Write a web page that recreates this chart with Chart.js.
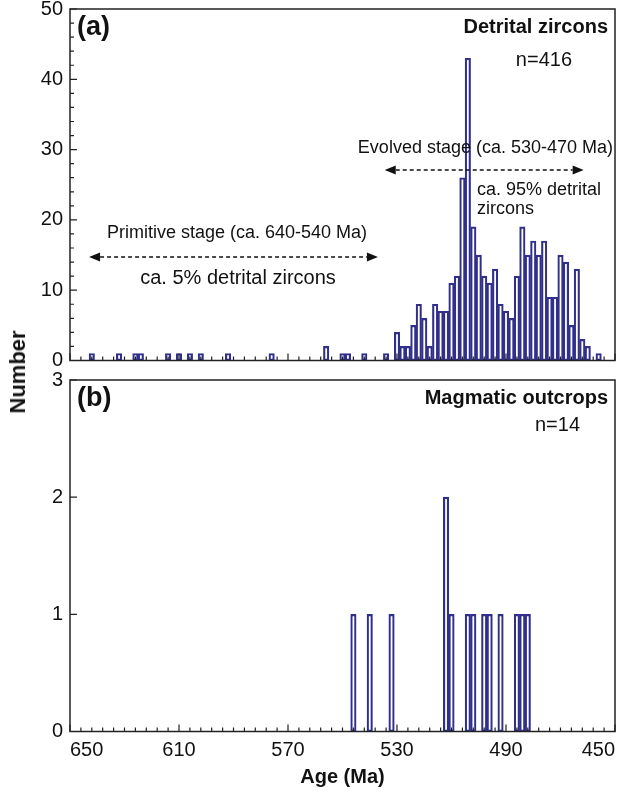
<!DOCTYPE html>
<html>
<head>
<meta charset="utf-8">
<script src="https://cdn.jsdelivr.net/npm/chart.js@4.4.1/dist/chart.umd.min.js"></script>
<style>
  html, body { margin: 0; padding: 0; background: #fff; }
  #wrap { position: relative; width: 619px; height: 793px; font-family: "Liberation Sans", Arial, sans-serif; }
  #chartA { position: absolute; left: 0; top: 0; }
  #chartB { position: absolute; left: 0; top: 372px; }
  #ylab {
    position: absolute; left: 18px; top: 372px;
    transform: translate(-50%, -50%) rotate(-90deg);
    font-weight: bold; font-size: 22px; color: #111; white-space: nowrap;
  }
</style>
</head>
<body>
<div id="wrap">
  <canvas id="chartA" width="619" height="372"></canvas>
  <canvas id="chartB" width="619" height="421"></canvas>
  <div id="ylab">Number</div>
</div>
<script>
// ── data (2 Ma bins, value = bin centre age) ─────────────────────────────────
const detritalAges = [
  642, 632, 626, 624, 614, 610, 606, 602, 592, 576, 556, 550, 548, 542, 534,
  530, 528, 526, 524, 522, 520, 518, 516, 514, 512, 510, 508, 506, 504, 502,
  500, 498, 496, 494, 492, 490, 488, 486, 484, 482, 480, 478, 476, 474, 472,
  470, 468, 466, 464, 462, 460, 456
];
const detritalCounts = [
  1, 1, 1, 1, 1, 1, 1, 1, 1, 1, 2, 1, 1, 1, 1,
  4, 2, 2, 5, 8, 6, 2, 8, 7, 7, 11, 12, 26, 43, 19,
  15, 12, 11, 13, 8, 7, 6, 12, 19, 15, 17, 15, 17, 9, 9,
  15, 14, 5, 13, 3, 2, 1
];
const magmaticAges   = [546, 540, 532, 512, 510, 504, 502, 498, 496, 492, 486, 484, 482];
const magmaticCounts = [1, 1, 1, 2, 1, 1, 1, 1, 1, 1, 1, 1, 1];

const ageMin = 450, ageMax = 650;
const ageLabelStep = 40, ageTickStep = 4;

const FONT = '"Liberation Sans", Arial, sans-serif';
const BAR = '#30308c';
const INK = '#111';

Chart.defaults.font.family = FONT;
Chart.defaults.color = INK;

// frame box + inward tick marks (+ age labels, end ones pulled inside the box)
const framePlugin = {
  id: 'frame',
  afterDatasetsDraw(chart, args, opts) {
    const { ctx, chartArea: a, scales: { x, y } } = chart;
    ctx.save();
    ctx.strokeStyle = '#222';
    ctx.lineWidth = 1.5;
    ctx.strokeRect(a.left, a.top, a.right - a.left, a.bottom - a.top);
    ctx.lineWidth = 1.2;
    ctx.beginPath();
    for (let v = ageMin; v <= ageMax; v += ageTickStep) {
      const px = x.getPixelForValue(v);
      const len = (ageMax - v) % ageLabelStep === 0 ? 7 : 4;
      ctx.moveTo(px, a.bottom);
      ctx.lineTo(px, a.bottom - len);
    }
    for (let v = 0; v <= y.max; v += opts.yMinor) {
      const py = y.getPixelForValue(v);
      const len = v % opts.yMajor === 0 ? 7 : 4;
      ctx.moveTo(a.left, py);
      ctx.lineTo(a.left + len, py);
    }
    ctx.stroke();

    if (opts.ageLabels) {
      ctx.font = '20px ' + FONT;
      ctx.fillStyle = INK;
      ctx.textBaseline = 'top';
      x.ticks.forEach(t => {
        ctx.textAlign = t.value === ageMax ? 'left' : t.value === ageMin ? 'right' : 'center';
        ctx.fillText(String(t.value), x.getPixelForValue(t.value), a.bottom + 9);
      });
    }
    ctx.restore();
  }
};

function dashedArrow(ctx, x1, x2, y) {
  const head = 11, half = 4.5;
  ctx.save();
  ctx.strokeStyle = '#111';
  ctx.fillStyle = '#111';
  ctx.lineWidth = 1.6;
  ctx.setLineDash([4, 3]);
  ctx.beginPath();
  ctx.moveTo(x1 + head, y);
  ctx.lineTo(x2 - head, y);
  ctx.stroke();
  ctx.setLineDash([]);
  ctx.beginPath();
  ctx.moveTo(x1, y); ctx.lineTo(x1 + head, y - half); ctx.lineTo(x1 + head, y + half); ctx.closePath();
  ctx.moveTo(x2, y); ctx.lineTo(x2 - head, y - half); ctx.lineTo(x2 - head, y + half); ctx.closePath();
  ctx.fill();
  ctx.restore();
}

function put(ctx, text, x, y, font, align) {
  ctx.font = font;
  ctx.textAlign = align || 'left';
  ctx.textBaseline = 'middle';
  ctx.fillText(text, x, y);
}

const notesA = {
  id: 'notesA',
  afterDraw(chart) {
    const { ctx, scales: { x } } = chart;
    ctx.save();
    ctx.fillStyle = INK;
    put(ctx, '(a)', 77, 28, 'bold 27px ' + FONT);
    put(ctx, 'Detrital zircons', 608, 27, 'bold 20px ' + FONT, 'right');
    put(ctx, 'n=416', 572, 60, '20px ' + FONT, 'right');
    put(ctx, 'Evolved stage (ca. 530-470 Ma)', 613, 148, '18px ' + FONT, 'right');
    put(ctx, 'ca. 95% detrital', 477, 190, '18px ' + FONT);
    put(ctx, 'zircons', 477, 209, '18px ' + FONT);
    put(ctx, 'Primitive stage (ca. 640-540 Ma)', 107, 233, '18px ' + FONT);
    put(ctx, 'ca. 5% detrital zircons', 238, 278, '20px ' + FONT, 'center');
    dashedArrow(ctx, x.getPixelForValue(534.5), x.getPixelForValue(461.5), 170);
    dashedArrow(ctx, x.getPixelForValue(643), x.getPixelForValue(537), 257);
    ctx.restore();
  }
};

const notesB = {
  id: 'notesB',
  afterDraw(chart) {
    const { ctx } = chart;
    ctx.save();
    ctx.fillStyle = INK;
    put(ctx, '(b)', 77, 27, 'bold 27px ' + FONT);
    put(ctx, 'Magmatic outcrops', 608, 26, 'bold 20px ' + FONT, 'right');
    put(ctx, 'n=14', 580, 53, '20px ' + FONT, 'right');
    ctx.restore();
  }
};

function noPad(scale) {
  scale.paddingTop = 0; scale.paddingBottom = 0;
  scale.paddingLeft = 0; scale.paddingRight = 0;
}

function histogram(canvas, ages, counts, opts) {
  return new Chart(canvas, {
    type: 'bar',
    data: {
      datasets: [{
        data: ages.map((a, i) => ({ x: a, y: counts[i] })),
        backgroundColor: 'rgba(255,255,255,0)',
        borderColor: BAR,
        borderWidth: 1.5,
        borderSkipped: false,
        categoryPercentage: 1,
        barPercentage: 1
      }]
    },
    plugins: [framePlugin, opts.notes],
    options: {
      responsive: false,
      devicePixelRatio: 1,
      animation: false,
      layout: { padding: { top: opts.top, right: 4, left: 0, bottom: 0 } },
      plugins: {
        legend: { display: false },
        tooltip: { enabled: false },
        frame: { yMinor: opts.yMinor, yMajor: opts.yMajor, ageLabels: opts.xLabels }
      },
      scales: {
        x: {
          type: 'linear',
          reverse: true,
          offset: false,
          min: ageMin,
          max: ageMax,
          grid: { display: false, drawTicks: false },
          border: { display: false },
          ticks: { display: false, stepSize: ageLabelStep },
          title: {
            display: opts.xLabels,
            text: 'Age (Ma)',
            font: { size: 20, weight: 'bold' },
            color: INK,
            padding: { top: 0, bottom: 4 }
          },
          afterFit(scale) { scale.height = opts.xHeight; noPad(scale); }
        },
        y: {
          min: 0,
          max: opts.yMax,
          grid: { display: false, drawTicks: false },
          border: { display: false },
          ticks: { stepSize: opts.yMajor, padding: 7, font: { size: 20 }, color: INK },
          afterFit(scale) { scale.width = 70; noPad(scale); }
        }
      }
    }
  });
}

histogram(document.getElementById('chartA'), detritalAges, detritalCounts, {
  top: 9, yMax: 50, yMajor: 10, yMinor: 2, xLabels: false, xHeight: 11.5, notes: notesA
});
histogram(document.getElementById('chartB'), magmaticAges, magmaticCounts, {
  top: 8, yMax: 3, yMajor: 1, yMinor: 1, xLabels: true, xHeight: 61.5, notes: notesB
});
</script>
</body>
</html>
